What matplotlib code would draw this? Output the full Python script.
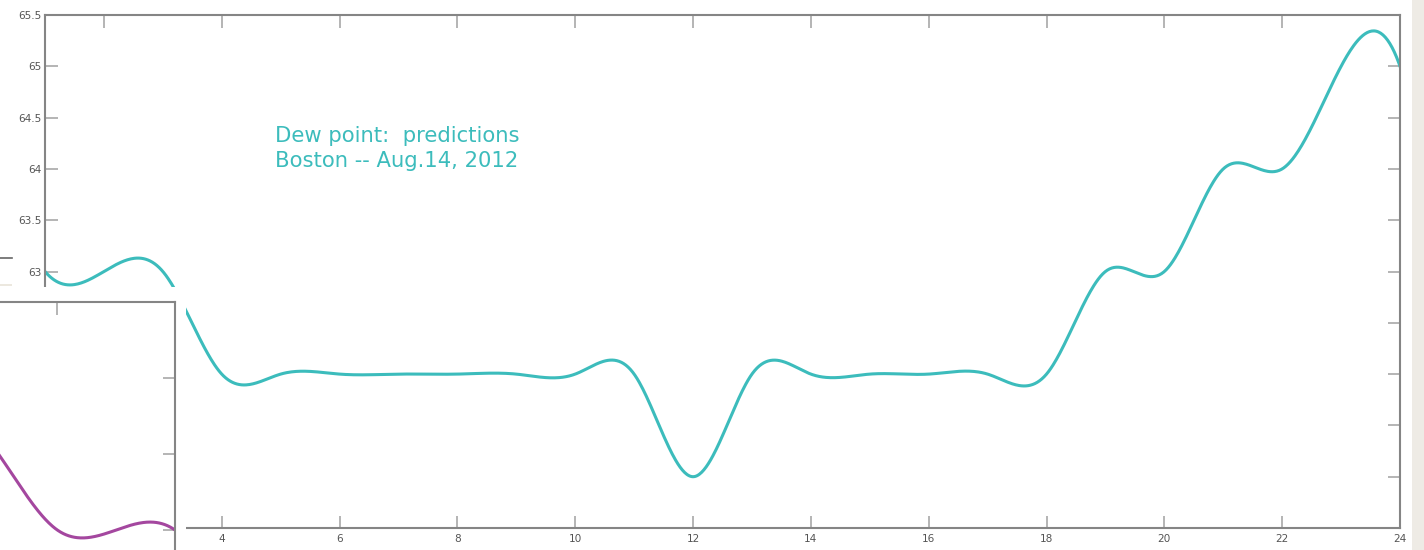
import numpy as np
import matplotlib.pyplot as plt
from matplotlib.patches import Rectangle
from matplotlib.lines import Line2D

plt.rcParams['font.family'] = ['DejaVu Sans']

# hourly dew point predictions, Boston, Aug 14 2012
hours = np.arange(1, 25)
dew_point = [63, 63, 63, 62, 62, 62, 62, 62, 62, 62, 62, 61,
             62, 62, 62, 62, 62, 62, 63, 63, 64, 64, 65, 65]

# tail of the other (magenta) series, partly hidden behind the slide
tail_hours = np.arange(18, 25)
tail_values = [73, 73, 72, 71, 70, 70, 70]

TEAL = '#3cbcbc'
MAGENTA = '#a4479f'
SPINE = '#858585'
TICK = '#a8a8a8'
LABEL = '#555555'


def spline(x, y, t):
    # cubic spline, not-a-knot ends (matlab style), uniform spacing
    x = np.asarray(x, float)
    y = np.asarray(y, float)
    n = len(x)
    h = x[1] - x[0]
    A = np.zeros((n, n))
    b = np.zeros(n)
    A[0, :3] = [1, -2, 1]
    A[-1, -3:] = [1, -2, 1]
    for i in range(1, n - 1):
        A[i, i - 1:i + 2] = [1, 4, 1]
        b[i] = 6 * (y[i - 1] - 2 * y[i] + y[i + 1]) / h ** 2
    M = np.linalg.solve(A, b)
    i = np.clip(((t - x[0]) // h).astype(int), 0, n - 2)
    s = (t - x[i]) / h
    return ((1 - s) * y[i] + s * y[i + 1]
            + ((1 - s) ** 3 - (1 - s)) * M[i] * h ** 2 / 6
            + (s ** 3 - s) * M[i + 1] * h ** 2 / 6)


t_main = np.linspace(1, 24, 1200)
dense = spline(hours, dew_point, t_main)

fig = plt.figure(figsize=(14.24, 5.5), dpi=100)
fig.patch.set_facecolor('white')

W, H = 1424, 550
ax = fig.add_axes([45 / W, (H - 528) / H, 1355 / W, 513 / H])
ax.plot(t_main, dense, color=TEAL, lw=2.2)
ax.set_xlim(1, 24)
ax.set_ylim(60.5, 65.5)
ax.set_xticks(np.arange(2, 25, 2))
yt = np.arange(60.5, 65.51, 0.5)
ax.set_yticks(yt)
ax.set_yticklabels(['%g' % v for v in yt])
ax.tick_params(direction='in', length=9, width=1.2, color=TICK,
               labelsize=7.6, labelcolor=LABEL, top=True, right=True, pad=2.5)
ax.tick_params(axis='x', pad=4)
for s in ax.spines.values():
    s.set_color(SPINE)
    s.set_linewidth(1.5)

ax.text(4.9, 64.42,
        'Dew point:  predictions\nBoston -- Aug.14, 2012',
        color=TEAL, fontsize=15.2, linespacing=1.3, va='top', ha='left')

# slide pieces in front of the main plot
fig.patches.append(Rectangle((0, 0), 186 / W, (H - 287) / H, transform=fig.transFigure,
                             facecolor='white', edgecolor='none', zorder=1))
fig.patches.append(Rectangle((0, (H - 286) / H), 12 / W, 2 / H, transform=fig.transFigure,
                             facecolor='#ece8df', edgecolor='none', zorder=1))
fig.patches.append(Rectangle((1412 / W, 0), 12 / W, 1, transform=fig.transFigure,
                             facecolor='#eeebe5', edgecolor='none', zorder=1))
fig.lines.append(Line2D([0, 12 / W], [(H - 258) / H] * 2, transform=fig.transFigure,
                        color='#666666', lw=1.2, zorder=1))

ins = fig.add_axes([0, 0, 175 / W, (H - 302) / H])
ins.set_zorder(2)
t_tail = np.linspace(20.5, 24, 300)
ins.plot(t_tail, spline(tail_hours, tail_values, t_tail), color=MAGENTA, lw=2.2)
ins.set_xlim(24 - 175 / 58.85, 24)
ins.set_ylim(70 - 20 / 76, 73)
ins.set_xticks([22])
ins.set_yticks([70, 71, 72])
ins.tick_params(direction='in', length=9, width=1.2, color=TICK,
                labelleft=False, labelbottom=False, left=False, bottom=False,
                top=True, right=True)
for k in ('left', 'bottom'):
    ins.spines[k].set_visible(False)
for k in ('top', 'right'):
    ins.spines[k].set_color(SPINE)
    ins.spines[k].set_linewidth(1.5)

fig.savefig('out.png', dpi=100, facecolor='white')
